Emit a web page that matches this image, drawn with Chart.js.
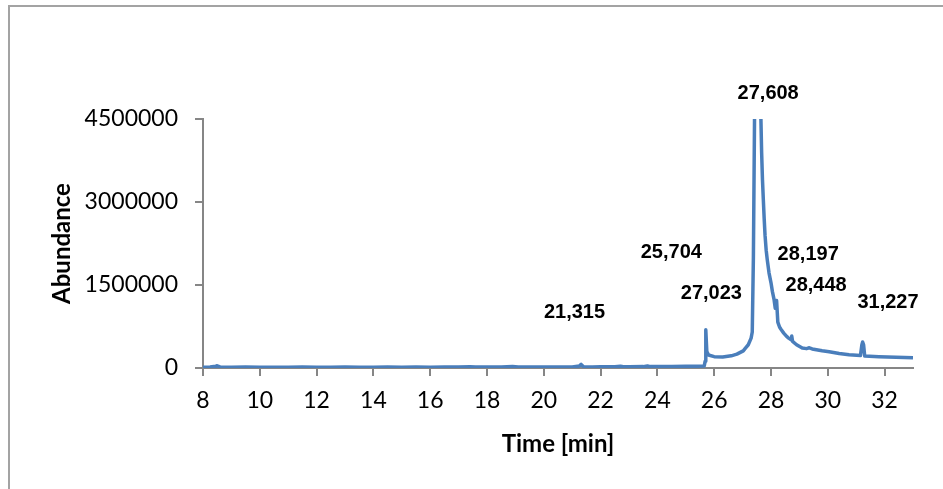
<!DOCTYPE html>
<html>
<head>
<meta charset="utf-8">
<script src="https://cdn.jsdelivr.net/npm/chart.js@4.4.1/dist/chart.umd.min.js"></script>
<style>
  html, body { margin: 0; padding: 0; background: #fff; overflow: hidden; }
  #wrap { position: relative; width: 943px; height: 489px; }
  #frame {
    position: absolute; left: 8px; top: 5px; width: 1000px; height: 600px;
    border-top: 2px solid #a3a3a3; border-left: 2px solid #a3a3a3; box-sizing: border-box;
  }
  #chart { position: absolute; left: 0; top: 0; }
</style>
</head>
<body>
<div id="wrap">
  <div id="frame"></div>
  <canvas id="chart" width="943" height="489"></canvas>
</div>
<script>
// Retention time (min) of each sample of the chromatogram trace
const times = [
  8.0, 8.25, 8.45, 8.5, 8.6, 9.0, 9.5, 10.0, 10.5, 11.0, 11.5, 12.0, 12.5, 13.0, 13.5,
  14.0, 14.5, 15.0, 15.5, 16.0, 16.5, 17.0, 17.4, 17.6, 18.0, 18.5, 18.9, 19.1, 19.5,
  20.0, 20.5, 21.0, 21.25, 21.315, 21.4, 21.7, 22.0, 22.5, 22.7, 22.8, 23.0, 23.5,
  23.65, 23.75, 24.0, 24.5, 25.0, 25.4, 25.65, 25.68, 25.704, 25.74, 25.8, 26.0, 26.3,
  26.6, 26.8, 27.023, 27.1, 27.2, 27.3, 27.34, 27.38, 27.42, 27.5, 27.608, 27.645,
  27.67, 27.7, 27.73, 27.76, 27.79, 27.83, 27.87, 27.93, 28.0, 28.05, 28.11, 28.15,
  28.197, 28.24, 28.3, 28.35, 28.448, 28.55, 28.62, 28.71, 28.73, 28.76, 28.9, 29.1,
  29.25, 29.35, 29.45, 29.6, 29.8, 30.05, 30.4, 30.75, 31.15, 31.2, 31.227, 31.26,
  31.3, 31.8, 32.4, 33.0
];

// Abundance (counts) at each retention time
const abundance = [
  15000, 18000, 32000, 40000, 20000, 14000, 16000, 13000, 15000, 14000, 17000, 15000,
  13000, 16000, 15000, 14000, 17000, 15000, 16000, 14000, 18000, 16000, 22000, 16000,
  17000, 20000, 25000, 17000, 18000, 17000, 19000, 20000, 35000, 65000, 24000, 20000,
  21000, 22000, 32000, 22000, 23000, 25000, 38000, 25000, 26000, 28000, 30000, 33000,
  38000, 120000, 690000, 300000, 235000, 205000, 200000, 220000, 250000, 310000,
  360000, 420000, 540000, 650000, 2000000, 4500000, 5800000, 6500000, 4500000,
  3900000, 3400000, 3040000, 2700000, 2400000, 2130000, 1950000, 1720000, 1540000,
  1380000, 1230000, 1080000, 1220000, 830000, 740000, 700000, 630000, 570000, 540000,
  510000, 580000, 480000, 420000, 360000, 350000, 365000, 345000, 330000, 312000,
  295000, 262000, 240000, 225000, 420000, 470000, 420000, 215000, 204000, 195000,
  186000
];

// Peak retention labels and where they are written (time, abundance)
const peakLabels = ['27,608', '25,704', '27,023', '28,197', '28,448', '31,227', '21,315'];
const labelTimes = [27.90, 24.49, 25.90, 29.31, 29.59, 32.12, 21.08];
const labelLevels = [4970000, 2080000, 1350000, 2060000, 1500000, 1190000, 1010000];

// Axis ticks
const yTicks = [0, 1500000, 3000000, 4500000];
const xTicks = [8, 10, 12, 14, 16, 18, 20, 22, 24, 26, 28, 30, 32];
const xMin = 8, xMax = 33;

const axisGray = '#868686';
const traceBlue = '#4a7ebb';

const peakLabelPlugin = {
  id: 'peakLabels',
  afterDatasetsDraw(chart) {
    const { ctx, scales: { x, y } } = chart;
    ctx.save();
    ctx.font = 'bold 20px "Liberation Sans", Arial, sans-serif';
    ctx.fillStyle = '#000';
    ctx.textAlign = 'center';
    ctx.textBaseline = 'middle';
    peakLabels.forEach((txt, i) => {
      ctx.fillText(txt, x.getPixelForValue(labelTimes[i]), y.getPixelForValue(labelLevels[i]));
    });
    ctx.restore();
  }
};

new Chart(document.getElementById('chart'), {
  type: 'line',
  data: {
    datasets: [{
      data: times.map((t, i) => ({ x: t, y: abundance[i] })),
      borderColor: traceBlue,
      borderWidth: 3.5,
      borderJoinStyle: 'round',
      pointRadius: 0,
      tension: 0,
      fill: false,
      clip: 0
    }]
  },
  options: {
    responsive: false,
    animation: false,
    layout: { padding: { top: 119, right: 30, left: 0, bottom: 0 } },
    plugins: { legend: { display: false }, tooltip: { enabled: false } },
    scales: {
      x: {
        type: 'linear',
        min: xMin,
        max: xMax,
        afterBuildTicks(scale) {
          scale.ticks = xTicks.map(v => ({ value: v }));
        },
        afterFit(scale) { scale.height = 121; },
        ticks: {
          color: '#000',
          padding: 11,
          maxRotation: 0,
          autoSkip: false,
          font: { family: 'Lato', size: 23 }
        },
        grid: { drawOnChartArea: false, drawTicks: true, tickLength: 8, color: axisGray, lineWidth: 2 },
        border: { display: true, color: axisGray, width: 2 },
        title: {
          display: true,
          text: 'Time [min]',
          color: '#000',
          font: { family: 'Lato', size: 24, weight: 'bold' },
          padding: { top: 6, bottom: 30 }
        }
      },
      y: {
        min: 0,
        max: yTicks[yTicks.length - 1],
        afterBuildTicks(scale) {
          scale.ticks = yTicks.map(v => ({ value: v }));
        },
        afterFit(scale) { scale.width = 203; },
        ticks: {
          color: '#000',
          padding: 17,
          font: { family: 'Lato', size: 23 },
          callback: v => String(v)
        },
        grid: { drawOnChartArea: false, drawTicks: true, tickLength: 8, color: axisGray, lineWidth: 2 },
        border: { display: true, color: axisGray, width: 2 },
        title: {
          display: true,
          text: 'Abundance',
          color: '#000',
          font: { family: 'Lato', size: 24, weight: 'bold' },
          padding: { top: 48, bottom: 0 }
        }
      }
    }
  },
  plugins: [peakLabelPlugin]
});
</script>
</body>
</html>
